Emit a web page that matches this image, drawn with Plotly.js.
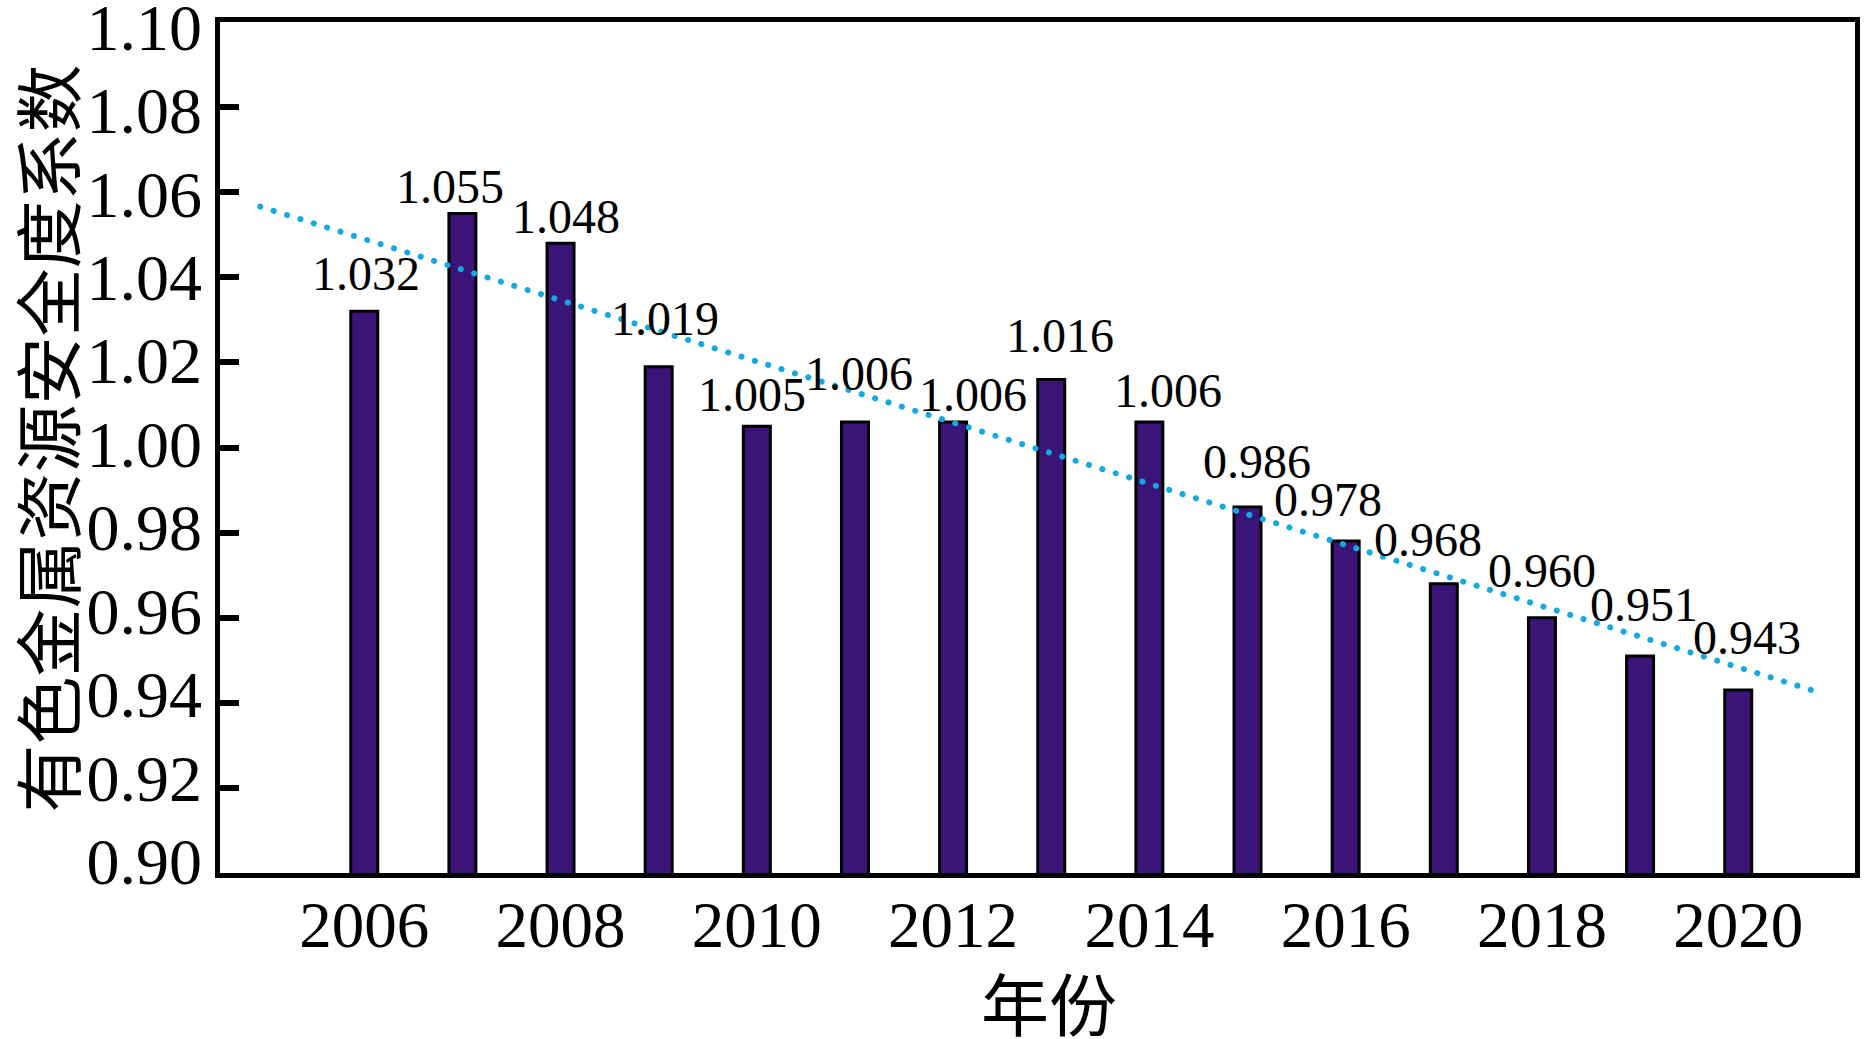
<!DOCTYPE html>
<html>
<head>
<meta charset="utf-8">
<script src="https://cdn.plot.ly/plotly-3.0.1.min.js"></script>
<style>
  html, body { margin: 0; padding: 0; background: #fff; }
  #chart { width: 1866px; height: 1039px; }
  .js-line { stroke-linecap: round; }
</style>
</head>
<body>
<div id="chart"></div>
<script>
// ---- data ----
const years = [2006, 2007, 2008, 2009, 2010, 2011, 2012, 2013, 2014, 2015, 2016, 2017, 2018, 2019, 2020];
const safetyCoef = [1.032, 1.055, 1.048, 1.019, 1.005, 1.006, 1.006, 1.016, 1.006, 0.986, 0.978, 0.968, 0.960, 0.951, 0.943];
const labelText = ['1.032', '1.055', '1.048', '1.019', '1.005', '1.006', '1.006', '1.016', '1.006', '0.986', '0.978', '0.968', '0.960', '0.951', '0.943'];
// linear trend line end points
const trendX = [2004.94, 2020.87];
const trendY = [1.0566, 0.9421];
const xTickVals = [2006, 2008, 2010, 2012, 2014, 2016, 2018, 2020];
const xTickText = ['2006', '2008', '2010', '2012', '2014', '2016', '2018', '2020'];
const yTickVals = [0.90, 0.92, 0.94, 0.96, 0.98, 1.00, 1.02, 1.04, 1.06, 1.08, 1.10];
const yTickText = ['0.90', '0.92', '0.94', '0.96', '0.98', '1.00', '1.02', '1.04', '1.06', '1.08', '1.10'];
const xTitle = '年份';
const yTitle = '有色金属资源安全度系数';

// ---- label placement (pixel offsets from each bar top) ----
const labelDx = [2, -12.5, 5, 6, -5, 4, 20, 9, 19, 9, -18, -16, 0, 4, 9];
const labelDy = [37.5, 26.5, 26.5, 48, 31.5, 48.5, 27.5, 43.5, 31, 45.5, 42, 44.5, 47.5, 51, 52.5];
// the reference's y tick labels sit on a slightly tighter scale than its ticks
const yLabelAxisRange = [0.89712, 1.10108];

const serif = '"Liberation Serif", "DejaVu Serif", serif';
const cjk = '"Noto Sans CJK SC", "Noto Sans", sans-serif';

const bars = {
  type: 'bar',
  x: years,
  y: safetyCoef,
  base: 0,
  width: 0.275,
  marker: { color: '#3b1477', line: { color: '#000000', width: 3 } },
  hoverinfo: 'x+y',
  showlegend: false
};

const trend = {
  type: 'scatter',
  mode: 'lines',
  x: trendX,
  y: trendY,
  line: { color: '#14a9e1', width: 6, dash: '0.1px,13.9px' },
  hoverinfo: 'skip',
  showlegend: false
};

// invisible carrier so the label axis is drawn
const labelCarrier = {
  type: 'scatter',
  mode: 'markers',
  x: [years[0]],
  y: [safetyCoef[0]],
  yaxis: 'y2',
  marker: { opacity: 0 },
  hoverinfo: 'skip',
  showlegend: false
};

const annotations = years.map((yr, i) => ({
  x: yr,
  y: safetyCoef[i],
  xref: 'x',
  yref: 'y',
  text: labelText[i],
  showarrow: false,
  xanchor: 'center',
  yanchor: 'middle',
  xshift: labelDx[i],
  yshift: labelDy[i],
  font: { family: serif, size: 48, color: '#000' }
}));

// axis titles
annotations.push({
  xref: 'paper', yref: 'paper', x: 0.5, y: 0,
  xanchor: 'center', yanchor: 'middle',
  xshift: 11, yshift: -128,
  text: xTitle, showarrow: false,
  font: { family: cjk, size: 68, color: '#000' }
});
annotations.push({
  xref: 'paper', yref: 'paper', x: 0, y: 0.5,
  xanchor: 'center', yanchor: 'middle',
  xshift: -175, yshift: 9,
  textangle: -90,
  text: yTitle, showarrow: false,
  font: { family: cjk, size: 68, color: '#000' }
});

const layout = {
  width: 1866,
  height: 1039,
  paper_bgcolor: '#ffffff',
  plot_bgcolor: '#ffffff',
  margin: { l: 220, r: 11, t: 22, b: 166, pad: 0 },
  showlegend: false,
  bargap: 0,
  xaxis: {
    range: [2004.53, 2021.19],
    tickmode: 'array',
    tickvals: xTickVals,
    ticktext: xTickText,
    ticks: '',
    showline: true,
    linecolor: '#000',
    linewidth: 5,
    mirror: true,
    showgrid: false,
    zeroline: false,
    ticklabelstandoff: -9,
    ticklabeloverflow: 'allow',
    tickfont: { family: serif, size: 65, color: '#000' },
    automargin: false
  },
  yaxis: {
    range: [0.9, 1.1],
    tickmode: 'array',
    tickvals: yTickVals,
    ticks: 'inside',
    ticklen: 19,
    tickwidth: 6,
    tickcolor: '#000',
    showticklabels: false,
    showline: true,
    linecolor: '#000',
    linewidth: 5,
    mirror: true,
    showgrid: false,
    zeroline: false,
    automargin: false
  },
  yaxis2: {
    overlaying: 'y',
    side: 'left',
    range: yLabelAxisRange,
    tickmode: 'array',
    tickvals: yTickVals,
    ticktext: yTickText,
    ticks: '',
    showline: false,
    showgrid: false,
    zeroline: false,
    ticklabelstandoff: 17,
    ticklabeloverflow: 'allow',
    tickfont: { family: serif, size: 66, color: '#000' },
    automargin: false
  },
  annotations: annotations
};

Plotly.newPlot('chart', [bars, trend, labelCarrier], layout, { displayModeBar: false, staticPlot: true });
</script>
</body>
</html>
